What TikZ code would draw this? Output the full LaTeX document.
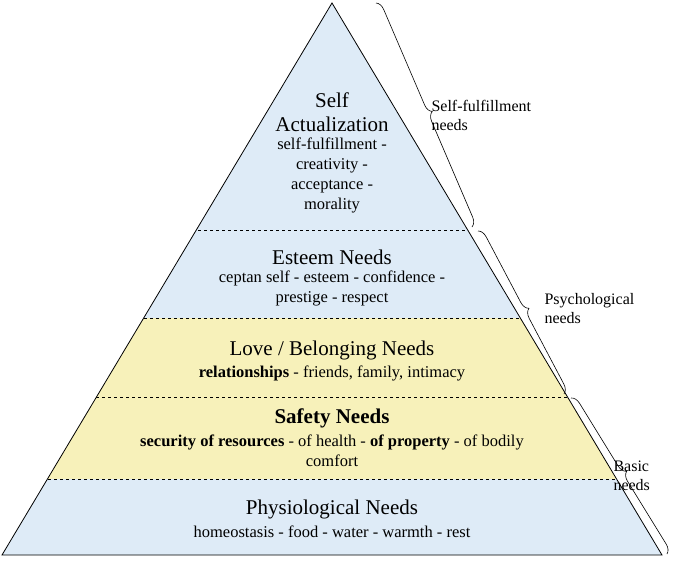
\documentclass[tikz,border=0pt]{standalone}
\usepackage{fontspec}
\setmainfont{Liberation Serif}
\usetikzlibrary{decorations.pathreplacing}
\definecolor{lblue}{RGB}{222,235,247}
\definecolor{lyel}{RGB}{247,241,186}
\tikzset{
  band/.style={draw=black,dashed,line width=0.6pt},
  ttl/.style={font=\fontsize{21}{24}\selectfont,align=center},
  txt/.style={font=\fontsize{16.5}{20}\selectfont,align=center},
  brc/.style={decorate,decoration={brace,amplitude=9pt},line width=0.6pt},
  lbl/.style={font=\fontsize{16}{19}\selectfont,align=left,anchor=west}
}
\begin{document}
\begin{tikzpicture}[x=1pt,y=-1pt]
\useasboundingbox (0,0) rectangle (685,563);
\coordinate (A) at (332,3);
\coordinate (L) at (2,555);
\coordinate (R) at (662,555);
\begin{scope}
\clip (A) -- (L) -- (R) -- cycle;
\fill[lblue] (0,0) rectangle (685,318);
\fill[lyel] (0,318) rectangle (685,479);
\fill[lblue] (0,479) rectangle (685,563);
\draw[band] (0,230) -- (685,230);
\draw[band] (0,318) -- (685,318);
\draw[band] (0,397) -- (685,397);
\draw[band] (0,479) -- (685,479);
\end{scope}
\draw[line width=0.8pt,line join=miter] (A) -- (L) -- (R) -- cycle;
\node[ttl] (t1) at (332,112) {Self\\Actualization};
\node[txt] (b1) at (332,175) {self-fulfillment -\\creativity -\\acceptance -\\morality};
\node[ttl] (t2) at (332,257) {Esteem Needs};
\node[txt] (b2) at (332,288) {ceptan self - esteem - confidence -\\prestige - respect};
\node[ttl] (t3) at (332,350) {Love / Belonging Needs};
\node[txt] (b3) at (332,373) {\textbf{relationships} - friends, family, intimacy};
\node[ttl] (t4) at (332,418) {\textbf{Safety Needs}};
\node[txt] (b4) at (332,451) {\textbf{security of resources} - of health - \textbf{of property} - of bodily\\comfort};
\node[ttl] (t5) at (332,509) {Physiological Needs};
\node[txt] (b5) at (332,532) {homeostasis - food - water - warmth - rest};
\coordinate (c1) at (376,3);
\coordinate (c2) at (472,227);
\coordinate (c3) at (478,231);
\coordinate (c4) at (564,394);
\coordinate (c5) at (571,398);
\coordinate (c6) at (667,554);
\draw[brc] (c1) -- (c2);
\draw[brc] (c3) -- (c4);
\draw[brc] (c5) -- (c6);
\node[lbl] (l1) at (428,115) {Self-fulfillment\\needs};
\node[lbl] (l2) at (541,309) {Psychological\\needs};
\node[lbl] (l3) at (610,476) {Basic\\needs};
\end{tikzpicture}
\end{document}
